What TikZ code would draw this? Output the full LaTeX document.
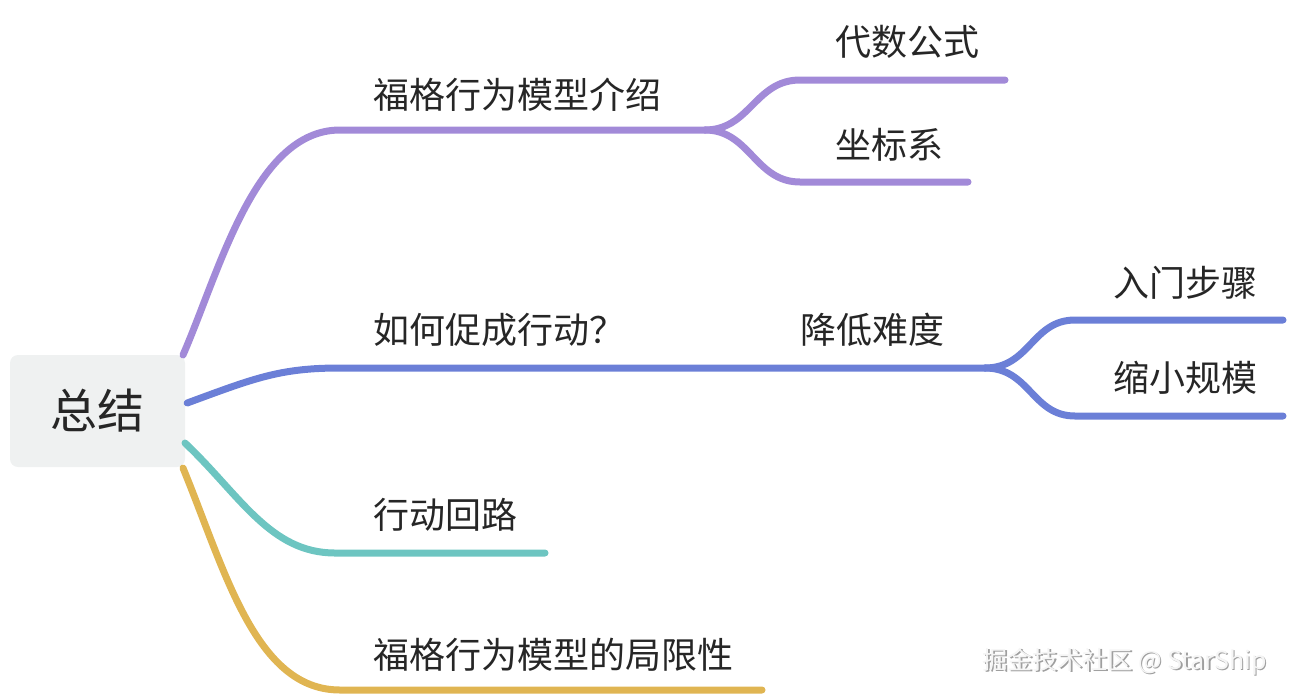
\documentclass[tikz,border=0pt]{standalone}
\usepackage{fontspec}
\setmainfont{Noto Sans CJK SC}
\usepackage{xcolor}
\usepackage{tikz}
\definecolor{purp}{HTML}{A28AD8}
\definecolor{bluel}{HTML}{6B7FD7}
\definecolor{teal}{HTML}{6DC5C1}
\definecolor{gold}{HTML}{E0B552}
\definecolor{rootbg}{HTML}{EFF1F1}
\definecolor{ink}{HTML}{262626}

\begin{document}
\begin{tikzpicture}[x=1pt, y=-1pt,
  rootbox/.style={fill=rootbg, rounded corners=8pt, minimum width=175pt, minimum height=112pt, inner sep=0pt, text=ink, font=\fontsize{47}{50}\selectfont},
  label/.style={anchor=west, inner sep=0pt, text=ink, font=\fontsize{36}{40}\selectfont},
  branch/.style={line width=7pt, line cap=round}]
  \useasboundingbox (0,0) rectangle (1292,697);
  % Root
  \node[rootbox] (root) at (97.5,411) {总结};
  % First branch: model intro
  \node[label] (intro) at (373,95) {福格行为模型介绍};
  \node[label] (algebra) at (835,42) {代数公式};
  \node[label] (coord) at (835,145) {坐标系};
  \coordinate (introL) at (340,130);
  \coordinate (introR) at (705,130);
  \coordinate (algebraL) at (800,80);
  \coordinate (algebraR) at (1005,80);
  \coordinate (coordL) at (800,182);
  \coordinate (coordR) at (968,182);
  \draw[branch, purp] (183,355) .. controls (220,270) and (255,130) .. (introL) -- (introR);
  \draw[branch, purp] (introR) .. controls (750,130) and (755,80) .. (algebraL) -- (algebraR);
  \draw[branch, purp] (introR) .. controls (750,130) and (755,182) .. (coordL) -- (coordR);
  % Second branch: how to act
  \node[label] (howto) at (373,330) {如何促成行动？};
  \node[label] (easier) at (800,330) {降低难度};
  \node[label] (steps) at (1113,283) {入门步骤};
  \node[label] (smaller) at (1113,378) {缩小规模};
  \coordinate (howtoL) at (340,368);
  \coordinate (easierR) at (985,368);
  \coordinate (stepsL) at (1075,320);
  \coordinate (stepsR) at (1283,320);
  \coordinate (smallerL) at (1075,416);
  \coordinate (smallerR) at (1283,416);
  \draw[branch, bluel] (root.east) ++(2,-8) .. controls (255,378) and (280,368) .. (howtoL) -- (easierR);
  \draw[branch, bluel] (easierR) .. controls (1030,368) and (1032,320) .. (stepsL) -- (stepsR);
  \draw[branch, bluel] (easierR) .. controls (1030,368) and (1032,416) .. (smallerL) -- (smallerR);
  % Third branch: action loop
  \node[label] (loop) at (373,515) {行动回路};
  \coordinate (loopL) at (335,553);
  \coordinate (loopR) at (545,553);
  \draw[branch, teal] (185,443) .. controls (240,495) and (270,553) .. (loopL) -- (loopR);
  % Fourth branch: limits
  \node[label] (limits) at (373,655) {福格行为模型的局限性};
  \coordinate (limitsL) at (340,690);
  \coordinate (limitsR) at (762,690);
  \draw[branch, gold] (183,468) .. controls (225,570) and (255,690) .. (limitsL) -- (limitsR);
  % Watermark
  \node[anchor=west, inner sep=0pt, text=gray!75, font=\fontsize{25}{28}\selectfont] (markshadow) at (984,663) {掘金技术社区 @ StarShip};
  \node[anchor=west, inner sep=0pt, text=white!92!gray, font=\fontsize{25}{28}\selectfont] (mark) at (982.5,661.5) {掘金技术社区 @ StarShip};
\end{tikzpicture}
\end{document}
